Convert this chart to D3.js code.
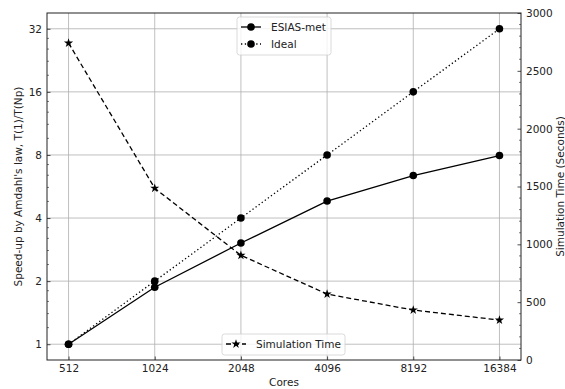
<!DOCTYPE html>
<html>
<head>
<meta charset="utf-8">
<script src="https://cdn.jsdelivr.net/npm/d3@7"></script>
<style>
  body { margin: 0; background: #fff; }
  svg { display: block; font-family: "DejaVu Sans", sans-serif; }
</style>
</head>
<body>
<svg id="chart"></svg>
<script>
const cores = [512, 1024, 2048, 4096, 8192, 16384];
const esiasSpeedup = [1, 1.87, 3.04, 4.82, 6.38, 7.95];
const idealSpeedup = [1, 2, 4, 8, 16, 32];
const simTime = [2740, 1485, 905, 570, 432, 345];
const speedupTicks = [1, 2, 4, 8, 16, 32];
const timeTicks = [0, 500, 1000, 1500, 2000, 2500, 3000];

const width = 565, height = 389;
const margin = { top: 13, right: 44, bottom: 29, left: 47 };
const x0 = margin.left, x1 = width - margin.right;
const y0 = height - margin.bottom, y1 = margin.top;
const ink = "#222";

const svg = d3.select("#chart").attr("width", width).attr("height", height);

const x = d3.scaleLog().base(2)
  .domain([512 * Math.pow(2, -0.25), 16384 * Math.pow(2, 0.25)])
  .range([x0, x1]);
const y = d3.scaleLog().base(2)
  .domain([Math.pow(2, -0.25), Math.pow(2, 5.25)])
  .range([y0, y1]);
const yr = d3.scaleLinear().domain([0, 3000]).range([y0, y1]);

// grid
const grid = svg.append("g").attr("stroke", "#b0b0b0").attr("stroke-width", 0.8);
grid.selectAll(".gx").data(cores).join("line")
  .attr("x1", d => x(d)).attr("x2", d => x(d)).attr("y1", y0).attr("y2", y1);
grid.selectAll(".gy").data(speedupTicks).join("line")
  .attr("y1", d => y(d)).attr("y2", d => y(d)).attr("x1", x0).attr("x2", x1);

// minor ticks (4 between majors)
function minors(ticks, lo, hi) {
  const out = [];
  for (let i = 0; i < ticks.length - 1; i++) {
    const s = (ticks[i + 1] - ticks[i]) / 5;
    for (let k = 1; k < 5; k++) out.push(ticks[i] + k * s);
  }
  const s0 = (ticks[1] - ticks[0]) / 5;
  for (let v = ticks[0] - s0; v > lo; v -= s0) out.push(v);
  return out.filter(v => v > lo && v < hi);
}
const minorG = svg.append("g").attr("stroke", ink).attr("stroke-width", 0.6);
minorG.selectAll(".ml").data(minors(speedupTicks, y.domain()[0], y.domain()[1])).join("line")
  .attr("x1", x0).attr("x2", x0 + 2).attr("y1", d => y(d)).attr("y2", d => y(d));
minorG.selectAll(".mr").data(minors(timeTicks, -1, 3001).filter(v => timeTicks.indexOf(v) < 0)).join("line")
  .attr("x1", x1).attr("x2", x1 - 2).attr("y1", d => yr(d)).attr("y2", d => yr(d));

// axes
const xAxis = svg.append("g").attr("transform", `translate(0,${y0})`)
  .call(d3.axisBottom(x).tickValues(cores).tickFormat(d3.format("d")).tickSizeInner(-3.5).tickSizeOuter(0).tickPadding(5));
const yAxis = svg.append("g").attr("transform", `translate(${x0},0)`)
  .call(d3.axisLeft(y).tickValues(speedupTicks).tickFormat(d3.format("d")).tickSizeInner(-3.5).tickSizeOuter(0).tickPadding(5));
const yrAxis = svg.append("g").attr("transform", `translate(${x1},0)`)
  .call(d3.axisRight(yr).tickValues(timeTicks).tickFormat(d3.format("d")).tickSizeInner(-3.5).tickSizeOuter(0).tickPadding(5));
[xAxis, yAxis, yrAxis].forEach(g => {
  g.select(".domain").remove();
  g.selectAll("line").attr("stroke", ink).attr("stroke-width", 0.8);
  g.selectAll("text").attr("fill", ink).attr("font-size", 10.5).attr("font-family", "DejaVu Sans");
});

// frame
svg.append("rect").attr("x", x0).attr("y", y1).attr("width", x1 - x0).attr("height", y0 - y1)
  .attr("fill", "none").attr("stroke", ink).attr("stroke-width", 1);

// labels
svg.append("text").attr("x", (x0 + x1) / 2).attr("y", 386).attr("text-anchor", "middle")
  .attr("font-size", 10.5).attr("fill", ink).text("Cores");
svg.append("text").attr("transform", `translate(22,${(y0 + y1) / 2}) rotate(-90)`)
  .attr("text-anchor", "middle").attr("font-size", 10.5).attr("fill", ink)
  .text("Speed-up by Amdahl's law, T(1)/T(Np)");
svg.append("text").attr("transform", `translate(564,${(y0 + y1) / 2}) rotate(-90)`)
  .attr("text-anchor", "middle").attr("font-size", 10.5).attr("fill", ink)
  .text("Simulation Time (Seconds)");

// series
const star = d3.symbol().type(d3.symbolStar).size(26);
function series(vals, yscale, dash, marker) {
  const pts = cores.map((c, i) => [x(c), yscale(vals[i])]);
  svg.append("path").attr("d", d3.line()(pts)).attr("fill", "none")
    .attr("stroke", "#000").attr("stroke-width", 1.3).attr("stroke-dasharray", dash);
  const g = svg.append("g").attr("fill", "#000");
  if (marker === "circle") {
    g.selectAll("circle").data(pts).join("circle")
      .attr("cx", d => d[0]).attr("cy", d => d[1]).attr("r", 3.8);
  } else {
    g.selectAll("path").data(pts).join("path")
      .attr("d", star).attr("transform", d => `translate(${d[0]},${d[1]})`);
  }
}
series(simTime, yr, "5,3", "star");
series(idealSpeedup, y, "1.3,2.5", "circle");
series(esiasSpeedup, y, null, "circle");

// legends
function legend(items, lx, ly, w) {
  const h = items.length * 17 + 4;
  const g = svg.append("g").attr("transform", `translate(${lx},${ly})`);
  g.append("rect").attr("width", w).attr("height", h).attr("rx", 2.5)
    .attr("fill", "rgba(255,255,255,0.8)").attr("stroke", "#d0d0d0").attr("stroke-width", 0.8);
  items.forEach((it, i) => {
    const cy = 10 + i * 17;
    g.append("line").attr("x1", 4).attr("x2", 24).attr("y1", cy).attr("y2", cy)
      .attr("stroke", "#000").attr("stroke-width", 1.3).attr("stroke-dasharray", it.dash);
    if (it.marker === "circle") g.append("circle").attr("cx", 14).attr("cy", cy).attr("r", 3.8);
    else g.append("path").attr("d", star).attr("transform", `translate(14,${cy})`);
    g.append("text").attr("x", 34).attr("y", cy + 4).attr("font-size", 10.5).attr("fill", ink).text(it.name);
  });
}
legend([{ name: "ESIAS-met", dash: null, marker: "circle" },
        { name: "Ideal", dash: "1.3,2.5", marker: "circle" }], 237, 17, 94);
legend([{ name: "Simulation Time", dash: "5,3", marker: "star" }], 222, 334, 123);
</script>
</body>
</html>
